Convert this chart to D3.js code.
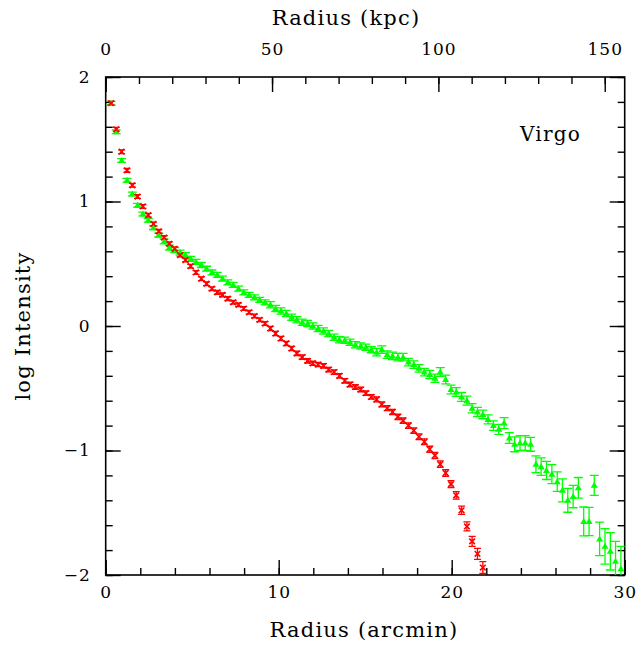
<!DOCTYPE html>
<html>
<head>
<meta charset="utf-8">
<script src="https://cdn.jsdelivr.net/npm/d3@7"></script>
<style>
  body { margin: 0; background: #fff; }
  text { font-family: "DejaVu Serif", serif; fill: #000; }
</style>
</head>
<body>
<div id="container"></div>
<script>
// radius bins (arcmin), shared by both profiles
const radius = [0.31, 0.61, 0.92, 1.23, 1.54, 1.84, 2.15, 2.46, 2.76, 3.07,
  3.38, 3.68, 3.99, 4.30, 4.61, 4.91, 5.22, 5.53, 5.83, 6.14,
  6.45, 6.75, 7.06, 7.37, 7.68, 7.98, 8.29, 8.60, 8.90, 9.21,
  9.52, 9.82, 10.13, 10.44, 10.75, 11.05, 11.36, 11.67, 11.97, 12.28,
  12.59, 12.89, 13.20, 13.51, 13.82, 14.12, 14.43, 14.74, 15.04, 15.35,
  15.66, 15.96, 16.27, 16.58, 16.89, 17.19, 17.50, 17.81, 18.11, 18.42,
  18.73, 19.03, 19.34, 19.65, 19.96, 20.26, 20.57, 20.88, 21.18, 21.49,
  21.80, 22.10, 22.41, 22.72, 23.03, 23.33, 23.64, 23.95, 24.25, 24.56,
  24.87, 25.17, 25.48, 25.79, 26.10, 26.40, 26.71, 27.02, 27.32, 27.63,
  27.94, 28.24, 28.55, 28.86, 29.17, 29.47, 29.78];

// red profile (crosses)
const redLog = [1.79, 1.58, 1.40, 1.25, 1.13, 1.04, 0.96, 0.89, 0.82, 0.76,
  0.71, 0.66, 0.62, 0.57, 0.53, 0.48, 0.43, 0.38, 0.34, 0.30,
  0.27, 0.25, 0.22, 0.19, 0.17, 0.14, 0.11, 0.08, 0.05, 0.02,
  -0.02, -0.06, -0.10, -0.14, -0.18, -0.22, -0.25, -0.28, -0.30, -0.31,
  -0.32, -0.35, -0.37, -0.40, -0.44, -0.47, -0.49, -0.51, -0.54, -0.57,
  -0.59, -0.63, -0.66, -0.69, -0.73, -0.76, -0.80, -0.84, -0.89, -0.93,
  -0.99, -1.04, -1.11, -1.18, -1.27, -1.36, -1.48, -1.61, -1.73, -1.83,
  -1.94];
const redErr = [0.015, 0.015, 0.015, 0.015, 0.015, 0.015, 0.015, 0.015, 0.015, 0.015,
  0.015, 0.015, 0.015, 0.015, 0.015, 0.015, 0.015, 0.015, 0.015, 0.015,
  0.015, 0.015, 0.015, 0.015, 0.015, 0.015, 0.015, 0.015, 0.015, 0.015,
  0.017, 0.017, 0.017, 0.017, 0.017, 0.017, 0.017, 0.017, 0.017, 0.017,
  0.018, 0.018, 0.018, 0.018, 0.018, 0.018, 0.018, 0.018, 0.018, 0.018,
  0.020, 0.020, 0.020, 0.021, 0.021, 0.022, 0.022, 0.022, 0.023, 0.023,
  0.024, 0.025, 0.026, 0.027, 0.028, 0.030, 0.033, 0.036, 0.040, 0.044,
  0.048];

// green profile (triangles)
const greenLog = [1.79, 1.56, 1.33, 1.17, 1.06, 0.97, 0.90, 0.85, 0.79, 0.73,
  0.68, 0.63, 0.61, 0.59, 0.57, 0.54, 0.515, 0.49, 0.46, 0.43,
  0.41, 0.38, 0.35, 0.33, 0.30, 0.27, 0.25, 0.23, 0.21, 0.19,
  0.17, 0.14, 0.12, 0.10, 0.07, 0.05, 0.03, 0.02, 0.00, -0.02,
  -0.04, -0.06, -0.09, -0.11, -0.115, -0.13, -0.15, -0.16, -0.17, -0.19,
  -0.21, -0.19, -0.23, -0.24, -0.25, -0.25, -0.29, -0.31, -0.34, -0.37,
  -0.39, -0.42, -0.37, -0.43, -0.51, -0.53, -0.57, -0.60, -0.66, -0.69,
  -0.71, -0.75, -0.80, -0.83, -0.78, -0.90, -0.95, -0.94, -0.94, -0.95,
  -1.11, -1.13, -1.16, -1.19, -1.25, -1.32, -1.40, -1.37, -1.30, -1.57,
  -1.57, -1.28, -1.71, -1.77, -1.81, -1.89, -1.95];
const greenErr = [0.015, 0.015, 0.015, 0.015, 0.015, 0.015, 0.015, 0.015, 0.015, 0.015,
  0.02, 0.02, 0.02, 0.02, 0.02, 0.02, 0.02, 0.02, 0.02, 0.02,
  0.02, 0.02, 0.02, 0.02, 0.02, 0.02, 0.02, 0.02, 0.02, 0.02,
  0.025, 0.025, 0.025, 0.025, 0.025, 0.025, 0.025, 0.025, 0.025, 0.025,
  0.025, 0.025, 0.025, 0.025, 0.025, 0.025, 0.025, 0.025, 0.025, 0.025,
  0.03, 0.03, 0.03, 0.03, 0.03, 0.03, 0.03, 0.03, 0.03, 0.03,
  0.033, 0.033, 0.035, 0.035, 0.035, 0.035, 0.036, 0.036, 0.037, 0.037,
  0.035, 0.036, 0.038, 0.040, 0.044, 0.043, 0.060, 0.060, 0.060, 0.056,
  0.067, 0.070, 0.073, 0.076, 0.078, 0.092, 0.096, 0.090, 0.083, 0.116,
  0.113, 0.080, 0.134, 0.143, 0.150, 0.160, 0.180];

// axis ranges / ticks
const xDomain = [0, 30];
const kpcMax = 156;            // 30 arcmin in kpc
const yDomain = [-2, 2];
const xMajor = [0, 10, 20, 30];
const kpcMajor = [0, 50, 100, 150];
const yMajor = [-2, -1, 0, 1, 2];

const width = 640, height = 650;
const pLeft = 105.7, pRight = 624.7, pTop = 77, pBottom = 575;

const svg = d3.select("#container").append("svg")
  .attr("width", width).attr("height", height);

const x = d3.scaleLinear().domain(xDomain).range([pLeft, pRight]);
const xk = d3.scaleLinear().domain([0, kpcMax]).range([pLeft, pRight]);
const y = d3.scaleLinear().domain(yDomain).range([pBottom, pTop]);

const fmt = d => d < 0 ? "\u2212" + Math.abs(d) : String(d);

// minor ticks
const minor = (axis, ticks, size) => g => g.call(axis.tickValues(ticks).tickSize(size).tickSizeOuter(0).tickFormat(""))
  .call(g => g.select(".domain").remove());

const yMinor = d3.range(-20, 21, 2).map(d => d / 10);

svg.append("g").attr("transform", `translate(0,${pBottom})`)
  .call(minor(d3.axisBottom(x), d3.range(0, 31, 2), -7));
svg.append("g").attr("transform", `translate(0,${pTop})`)
  .call(minor(d3.axisTop(xk), d3.range(0, 151, 10), -7));
svg.append("g").attr("transform", `translate(${pLeft},0)`)
  .call(minor(d3.axisLeft(y), yMinor, -7));
svg.append("g").attr("transform", `translate(${pRight},0)`)
  .call(minor(d3.axisRight(y), yMinor, -7));

// major ticks + labels
const styleTicks = g => {
  g.select(".domain").remove();
  g.selectAll("text").style("font-size", "17px").style("letter-spacing", "1px").attr("fill", "#000");
};

svg.append("g").attr("transform", `translate(0,${pBottom})`)
  .call(d3.axisBottom(x).tickValues(xMajor).tickSize(-15).tickSizeOuter(0).tickPadding(11).tickFormat(fmt))
  .call(styleTicks);
svg.append("g").attr("transform", `translate(0,${pTop})`)
  .call(d3.axisTop(xk).tickValues(kpcMajor).tickSize(-15).tickSizeOuter(0).tickPadding(22).tickFormat(fmt))
  .call(styleTicks);
svg.append("g").attr("transform", `translate(${pLeft},0)`)
  .call(d3.axisLeft(y).tickValues(yMajor).tickSize(-15).tickSizeOuter(0).tickPadding(15).tickFormat(fmt))
  .call(styleTicks);
svg.append("g").attr("transform", `translate(${pRight},0)`)
  .call(d3.axisRight(y).tickValues(yMajor).tickSize(-15).tickSizeOuter(0).tickFormat(""))
  .call(styleTicks);

svg.selectAll(".tick line").attr("stroke", "#000").attr("stroke-width", 1.4);

// frame
svg.append("rect")
  .attr("x", pLeft).attr("y", pTop)
  .attr("width", pRight - pLeft).attr("height", pBottom - pTop)
  .attr("fill", "none").attr("stroke", "#000").attr("stroke-width", 1.6);

// clip for the data
svg.append("clipPath").attr("id", "plot")
  .append("rect").attr("x", pLeft).attr("y", pTop)
  .attr("width", pRight - pLeft).attr("height", pBottom - pTop);

const plot = svg.append("g").attr("clip-path", "url(#plot)");

const redData = redLog.map((v, i) => ({r: radius[i], v: v, e: redErr[i]}));
const greenData = greenLog.map((v, i) => ({r: radius[i], v: v, e: greenErr[i]}));

// error bars with caps
function errorBars(data, color, cap) {
  const g = plot.append("g").attr("stroke", color).attr("stroke-width", 1.3).attr("fill", "none");
  g.selectAll("path")
    .data(data)
    .join("path")
    .attr("d", d => {
      const cx = x(d.r), y1 = y(d.v + d.e), y2 = y(d.v - d.e);
      return `M${cx},${y1}V${y2}M${cx - cap},${y1}H${cx + cap}M${cx - cap},${y2}H${cx + cap}`;
    });
}

errorBars(greenData, "#00ff00", 4.5);
errorBars(redData, "#ff0000", 3.5);

// green triangles
plot.append("g").selectAll("path")
  .data(greenData)
  .join("path")
  .attr("fill", "#00ff00")
  .attr("d", d => {
    const cx = x(d.r), cy = y(d.v);
    return `M${cx - 3.5},${cy + 2.5}L${cx + 3.5},${cy + 2.5}L${cx},${cy - 3.5}Z`;
  });

// red crosses
plot.append("g").selectAll("path")
  .data(redData)
  .join("path")
  .attr("stroke", "#ff0000")
  .attr("stroke-width", 1.6)
  .attr("d", d => {
    const cx = x(d.r), cy = y(d.v), s = 2.8;
    return `M${cx - s},${cy - s}L${cx + s},${cy + s}M${cx - s},${cy + s}L${cx + s},${cy - s}`;
  });

// titles
const title = sel => sel.style("font-size", "21px").style("letter-spacing", "1.2px");
svg.append("text").attr("x", 346).attr("y", 25).attr("text-anchor", "middle")
  .call(title).text("Radius (kpc)");
svg.append("text").attr("x", 364).attr("y", 637).attr("text-anchor", "middle")
  .call(title).text("Radius (arcmin)");
svg.append("text").attr("transform", "translate(30,326) rotate(-90)").attr("text-anchor", "middle")
  .call(title).text("log Intensity");
svg.append("text").attr("x", 520).attr("y", 141)
  .style("font-size", "20px").style("letter-spacing", "1.2px").text("Virgo");
</script>
</body>
</html>
